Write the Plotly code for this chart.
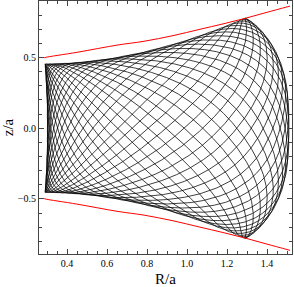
import numpy as np
import plotly.graph_objects as go

# Red boundary curves
red_R = [0.285, 0.29, 0.45, 0.655, 0.785, 0.93, 1.065, 1.18, 1.29, 1.40, 1.515]
red_z_upper = [0.497, 0.50, 0.537, 0.589, 0.615, 0.655, 0.70, 0.738, 0.777, 0.820, 0.864]
red_z_lower = [-0.497, -0.50, -0.537, -0.589, -0.615, -0.655, -0.70, -0.738, -0.777, -0.820, -0.864]

# Orbit envelope
R_LEFT = 0.29       # left edge of the orbit
BULGE = 0.012       # slight bulge of the left edge at z=0
R_CORNER = 1.29     # R of the upper/lower right corners
R_MAX = 1.51        # rightmost extent at z=0
Z_TL = 0.455        # |z| at left corners
Z_TR = 0.78         # |z| at right corners
P_TOP = 1.9
P_RIGHT = 2.8
Q_RIGHT = 0.8

# orbit oscillation counts (radial / vertical) and frequency variation
N_RADIAL = 19
N_VERTICAL = 26
KAPPA = 0.6         # vertical frequency is higher at small R
EPS = 0.08          # radial motion lingers near its turning points
EPS_Z = 0.12        # vertical motion lingers near its turning points

t = np.linspace(0, 2 * np.pi, 160001)
theta = N_RADIAL * t
theta = theta - EPS * np.sin(2 * theta)
s = 0.5 * (1 - np.cos(theta))
omega_z = 1 + KAPPA * (1 - s) ** 2
phase = np.concatenate([[0], np.cumsum(0.5 * (omega_z[1:] + omega_z[:-1]) * np.diff(t))])
phase *= 2 * np.pi * N_VERTICAL / phase[-1]
w = np.sin(phase + EPS_Z * np.sin(2 * phase))
H = Z_TL + (Z_TR - Z_TL) * s ** P_TOP
RL = R_LEFT + BULGE * (1 - w ** 2)
RR = R_CORNER + (R_MAX - R_CORNER) * np.clip(1 - np.abs(w) ** P_RIGHT, 0, 1) ** Q_RIGHT
orbit_R = RL + s * (RR - RL)
orbit_z = w * H

fig = go.Figure()
fig.add_trace(go.Scatter(x=orbit_R, y=orbit_z, mode="lines",
                         line=dict(color="black", width=0.75), hoverinfo="skip"))
fig.add_trace(go.Scatter(x=red_R, y=red_z_upper, mode="lines",
                         line=dict(color="red", width=1, shape="spline"), hoverinfo="skip"))
fig.add_trace(go.Scatter(x=red_R, y=red_z_lower, mode="lines",
                         line=dict(color="red", width=1, shape="spline"), hoverinfo="skip"))

fig.update_layout(
    width=294, height=287,
    margin=dict(l=39, r=2, t=1, b=33),
    paper_bgcolor="white", plot_bgcolor="white",
    showlegend=False,
    font=dict(family="Liberation Serif", size=10, color="black"),
)
fig.update_xaxes(
    range=[0.26, 1.525], tickvals=[0.4, 0.6, 0.8, 1.0, 1.2, 1.4],
    ticktext=["0.4", "0.6", "0.8", "1.0", "1.2", "1.4"],
    ticks="inside", ticklen=5, tickcolor="#444", mirror="allticks",
    showline=True, linecolor="#444", linewidth=1, showgrid=False, zeroline=False,
    minor=dict(dtick=0.05, tick0=0, ticks="inside", ticklen=3, tickcolor="#444", showgrid=False),
    title=dict(text="R/a", font=dict(family="Liberation Serif", size=15), standoff=6),
)
fig.update_yaxes(
    range=[-0.89, 0.9], tickvals=[-0.5, 0.0, 0.5], ticktext=["\u22120.5", "0.0", "0.5"],
    ticks="inside", ticklen=5, tickcolor="#444", mirror="allticks",
    showline=True, linecolor="#444", linewidth=1, showgrid=False, zeroline=False,
    minor=dict(dtick=0.1, tick0=0, ticks="inside", ticklen=3, tickcolor="#444", showgrid=False),
    title=dict(text="z/a", font=dict(family="Liberation Serif", size=15), standoff=4),
)
fig.write_html("out.html", config={"displayModeBar": False},
               post_script="document.body.style.margin='0';document.body.style.overflow='hidden';")
